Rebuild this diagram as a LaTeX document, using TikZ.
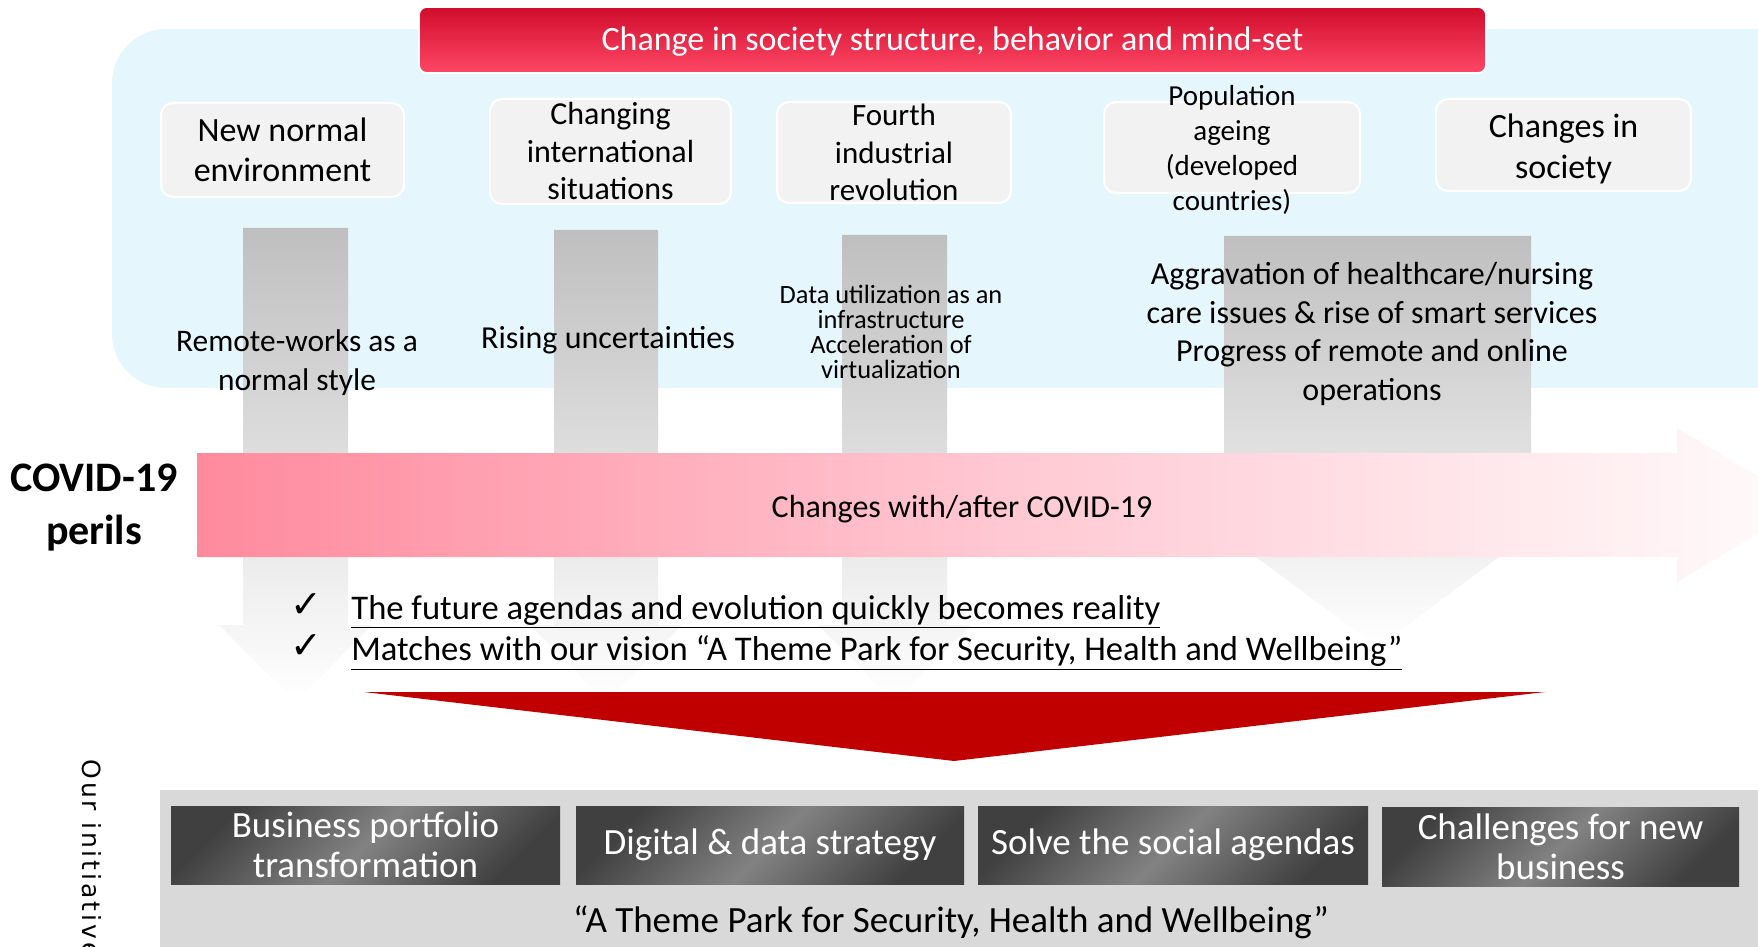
\documentclass[tikz,border=0pt]{standalone}
\usepackage{fontspec}
\setmainfont{Carlito}
\newfontfamily\symfont{DejaVu Sans}
\newfontfamily\sidefont[LetterSpace=12]{DejaVu Sans}
\usepackage{tikz}
\usetikzlibrary{positioning}
\definecolor{skyfill}{RGB}{230,246,253}
\definecolor{boxgray}{RGB}{242,242,242}
\definecolor{basegray}{RGB}{217,217,217}
\definecolor{funnelred}{RGB}{192,0,0}
\definecolor{titletop}{RGB}{208,12,44}
\definecolor{titlebot}{RGB}{255,72,102}
\definecolor{bandleft}{RGB}{255,138,158}
\definecolor{bandmid}{RGB}{255,200,210}
\definecolor{bandright}{RGB}{255,252,252}
\definecolor{shaftgray}{RGB}{191,191,191}
\definecolor{steeldark}{RGB}{64,64,64}
\definecolor{steellight}{RGB}{130,130,130}

\begin{document}
\begin{tikzpicture}[x=0.5pt,y=-0.5pt,
      catbox/.style={draw=white,line width=1pt,fill=boxgray,rounded corners=6pt,inner sep=0pt},
      lbl/.style={inner sep=0pt,align=center,text=black},
      titlebar/.style={top color=titletop,bottom color=titlebot,draw=white,line width=0.8pt,
        rounded corners=4pt,minimum width=533.5pt,minimum height=33pt,text=white,text depth=0pt,
        font=\fontsize{17}{20}\selectfont},
      initbox/.style={top color=steeldark,bottom color=steeldark,middle color=steellight,
        shading angle=45,inner sep=0pt,align=center,text=white,minimum height=39pt,
        font=\fontsize{18.5}{20}\selectfont},
      flow/.style={top color=shaftgray,bottom color=white},
      tick/.style={inner sep=0pt,font=\symfont\fontsize{19}{21}\selectfont}]
    \useasboundingbox (0,0) rectangle (1758,947);
    \clip (0,0) rectangle (1758,947);
    % light panel behind the trends
    \fill[skyfill,rounded corners=27pt] (112,29) rectangle (1810,388);
    \node[titlebar] (title) at (952.5,40) {};
    \node[lbl,text=white,font=\fontsize{17}{20}\selectfont] at (952.5,42) {Change in society structure, behavior and mind-set};

    % trend boxes
    \node[catbox,minimum width=121.5pt,minimum height=47pt] (newnormal) at (282.5,150) {};
    \node[lbl,font=\fontsize{17}{20}\selectfont] at (newnormal) {New normal\\environment};
    \node[catbox,minimum width=120.5pt,minimum height=52.5pt] (intl) at (610.5,151.5) {};
    \node[lbl,font=\fontsize{16}{18.75}\selectfont] at (intl) {Changing\\international\\situations};
    \node[catbox,minimum width=117pt,minimum height=50.5pt] (fourth) at (894,152.5) {};
    \node[lbl,font=\fontsize{15.5}{18.75}\selectfont] at (fourth) {Fourth\\industrial\\revolution};
    \node[catbox,minimum width=128pt,minimum height=45.5pt] (ageing) at (1232,147.5) {};
    \node[lbl,font=\fontsize{14.5}{17.5}\selectfont] at (1232,150) {Population\\ageing\\(developed\\countries)};
    \node[catbox,minimum width=127.5pt,minimum height=46pt] (society) at (1563.5,145) {};
    \node[lbl,font=\fontsize{17}{20.5}\selectfont] at (1563.5,148.5) {Changes in\\society};

    % grey arrows running down from each trend
    \shade[flow] (243,228) -- (348,228) -- (348,625) -- (372,625) -- (295.5,702) -- (219,625) -- (243,625) -- cycle;
    \shade[flow] (554,230) -- (658,230) -- (658,625) -- (682,625) -- (606,702) -- (530,625) -- (554,625) -- cycle;
    \shade[flow] (842,235) -- (947,235) -- (947,625) -- (971,625) -- (894.5,702) -- (818,625) -- (842,625) -- cycle;
    \shade[flow] (1224,236) -- (1531,236) -- (1531,501) -- (1574.5,501) -- (1377.5,647) -- (1180.5,501) -- (1224,501) -- cycle;

    \node[lbl,font=\fontsize{15.7}{19.5}\selectfont] (remote) at (297,363) {Remote-works as a\\normal style};
    \node[lbl,font=\fontsize{16}{19}\selectfont] (rising) at (608,340) {Rising uncertainties};
    \node[lbl,font=\fontsize{13.2}{12.5}\selectfont] (datause) at (891,332) {Data utilization as an\\infrastructure\\Acceleration of\\virtualization};
    \node[lbl,font=\fontsize{16}{19.25}\selectfont] (smart) at (1372,334) {Aggravation of healthcare/nursing\\care issues \& rise of smart services\\Progress of remote and online\\operations};

    % pink band
    \shade[left color=bandleft,right color=bandright,middle color=bandmid]
      (197,453) -- (1677,453) -- (1677,428) -- (1806,505) -- (1677,582) -- (1677,557) -- (197,557) -- cycle;
    \node[lbl,font=\fontsize{16}{19}\selectfont] (covidtxt) at (962,509) {Changes with/after COVID-19};
    \node[lbl,font=\bfseries\fontsize{21}{26.5}\selectfont] (covid) at (94,507.5) {COVID-19\\perils};

    \node[lbl,anchor=west,font=\fontsize{17.3}{20}\selectfont] (future) at (351,612)
      {\underline{The future agendas and evolution quickly becomes reality}};
    \node[lbl,anchor=west,font=\fontsize{17.3}{20}\selectfont] (vision) at (351,653)
      {\underline{Matches with our vision “A Theme Park for Security, Health and Wellbeing”}};
    \node[tick,left=14pt of future,yshift=3pt] (tickA) {✓};
    \node[tick,left=14pt of vision,yshift=3pt] (tickB) {✓};

    \fill[funnelred] (364,692) -- (1545,692) -- (954,761) -- cycle;

    % initiatives
    \fill[basegray] (160,790) rectangle (1770,960);
    \node[initbox,minimum width=194.5pt] (portfolio) at (365.5,845) {Business portfolio\\transformation};
    \node[initbox,minimum width=194pt] (digital) at (770,845) {Digital \& data strategy};
    \node[initbox,minimum width=195pt] (social) at (1173,845) {Solve the social agendas};
    \node[initbox,minimum width=178.5pt,minimum height=39.5pt] (newbiz) at (1560.5,846.5) {Challenges for new\\business};
    \node[lbl,font=\fontsize{18.5}{22}\selectfont] (motto) at (951,922) {“A Theme Park for Security, Health and Wellbeing”};
    \node[lbl,rotate=-90,anchor=west,font=\sidefont\fontsize{12.5}{14}\selectfont] (ours) at (92,759) {Our initiative};
\end{tikzpicture}
\end{document}
